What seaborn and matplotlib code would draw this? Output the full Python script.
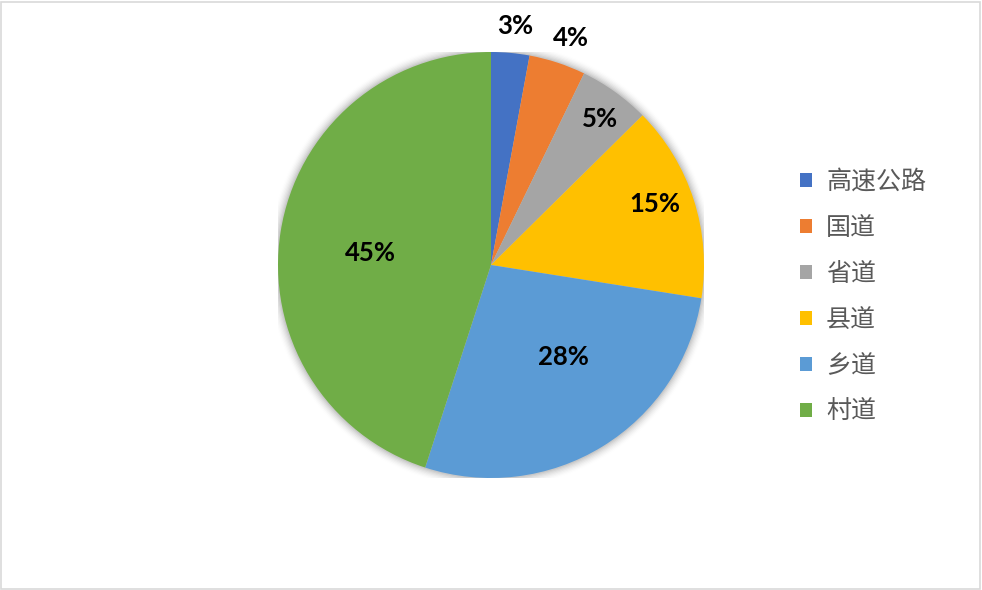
import matplotlib
matplotlib.use("Agg")
import matplotlib.pyplot as plt
import seaborn as sns
import numpy as np
from matplotlib.patches import Rectangle, Circle

categories = ["高速公路", "国道", "省道", "县道", "乡道", "村道"]
values = [2.9, 4.3, 5.4, 14.9, 27.5, 45.0]
pct_labels = ["3%", "4%", "5%", "15%", "28%", "45%"]
colors = ["#4472C4", "#ED7D31", "#A5A5A5", "#FFC000", "#5B9BD5", "#70AD47"]
label_dist = [1.13, 1.13, 0.855, 0.82, 0.55, 0.57]
label_angle_shift = [0.5, 1.1, 1.1, -2.6, -6.8, -3.3]

sns.set_style("white")
plt.rcParams['font.family'] = ['Noto Sans CJK SC', 'DejaVu Sans']

fig = plt.figure(figsize=(9.82, 5.9), dpi=100)
fig.patch.set_facecolor("white")
fig.patches.append(Rectangle((0.001, 0.002), 0.997, 0.995, transform=fig.transFigure,
                             fill=False, edgecolor="#D9D9D9", linewidth=1.2))

ax = fig.add_axes([278/982, 112/590, 426/982, 426/590])
ax.set_xlim(-1, 1); ax.set_ylim(-1, 1)

# soft shadow
for i, a in enumerate(np.linspace(0.05, 0.005, 8)):
    ax.add_patch(Circle((0, 0), 1.0 + 0.006 * (i + 1), color="black", alpha=a, lw=0, zorder=0))

wedges, _ = ax.pie(values, colors=sns.color_palette(colors), startangle=90, counterclock=False,
                   radius=1.0, wedgeprops=dict(linewidth=0), frame=False)
for w in wedges:
    w.set_zorder(2)
ax.set_xlim(-1, 1); ax.set_ylim(-1, 1)
ax.set_aspect("auto")

total = sum(values)
cum = 0
for v, lab, d, s in zip(values, pct_labels, label_dist, label_angle_shift):
    mid = 90 - ((cum + v / 2) / total * 360 + s)
    cum += v
    x = d * np.cos(np.radians(mid)); y = d * np.sin(np.radians(mid))
    ax.text(x, y, lab, ha="center", va="center", fontsize=18.5, fontweight="bold",
            family=["Lato", "DejaVu Sans"], color="black", zorder=5)

leg = fig.legend(wedges, categories, loc="upper left", bbox_to_anchor=(800/982, 1 - 169/590),
                 frameon=False, fontsize=18, handlelength=0.48, handleheight=0.48,
                 handletextpad=0.56, labelspacing=0.8, borderaxespad=0, borderpad=0)
for t in leg.get_texts():
    t.set_color("#595959")

fig.savefig("out.png", dpi=100)
